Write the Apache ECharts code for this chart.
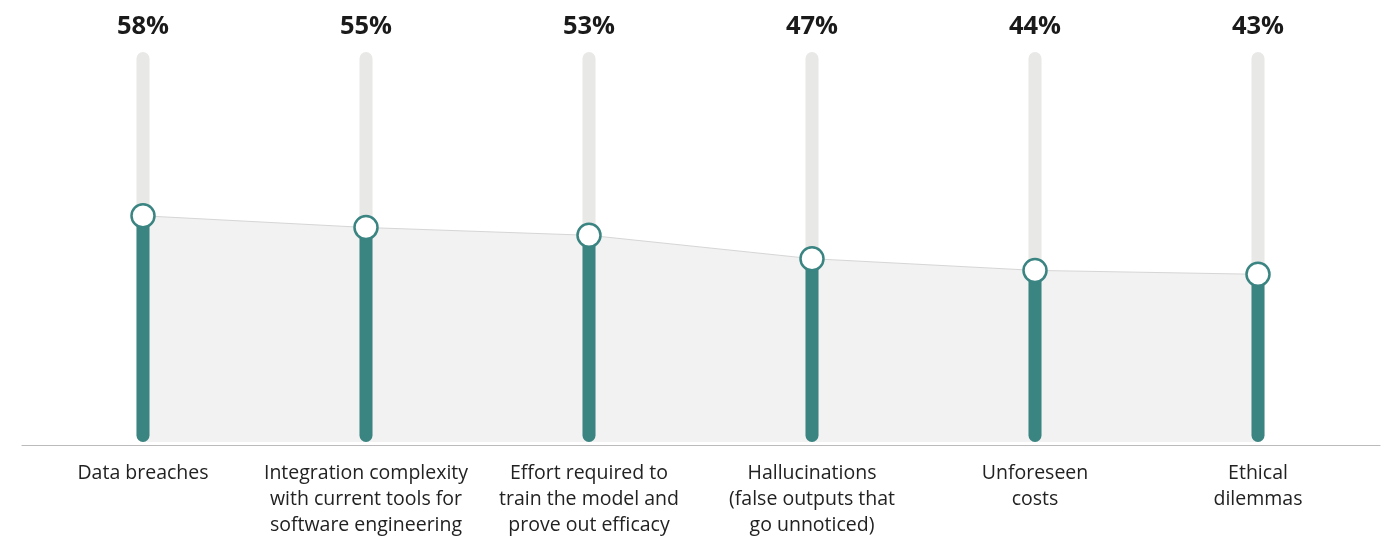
<!DOCTYPE html>
<html>
<head>
<meta charset="utf-8">
<script src="https://cdn.jsdelivr.net/npm/echarts@6/dist/echarts.min.js"></script>
<style>
html,body{margin:0;padding:0;background:#fff;}
#chart{width:1385px;height:538px;}
</style>
</head>
<body>
<div id="chart"></div>
<script>
const categories = [
  "Data breaches",
  "Integration complexity\nwith current tools for\nsoftware engineering",
  "Effort required to\ntrain the model and\nprove out efficacy",
  "Hallucinations\n(false outputs that\ngo unnoticed)",
  "Unforeseen\ncosts",
  "Ethical\ndilemmas"
];
const values = [58, 55, 53, 47, 44, 43];
const fullScale = [100, 100, 100, 100, 100, 100];

const TEAL = '#3a8482';
const FONT = '"Open Sans", "Noto Sans", sans-serif';

const chart = echarts.init(document.getElementById('chart'), null, {renderer: 'canvas'});
chart.setOption({
  backgroundColor: '#ffffff',
  animation: false,
  grid: [
    {left: 31.5, right: 15.5, top: 52, bottom: 92.5},
    {left: 22, right: 5, top: 52, bottom: 92.5}
  ],
  xAxis: [
    {
      type: 'category', gridIndex: 0, data: categories,
      axisLine: {show: false}, axisTick: {show: false},
      axisLabel: {interval: 0, margin: 18, color: '#222', fontSize: 19.5, lineHeight: 26, fontFamily: FONT, align: 'center'}
    },
    {
      type: 'value', gridIndex: 1, min: 0, max: 1,
      axisLine: {show: true, onZero: false, lineStyle: {color: '#bbbbbb', width: 1.2}},
      axisTick: {show: false}, axisLabel: {show: false}, splitLine: {show: false}
    }
  ],
  yAxis: [
    {type: 'value', gridIndex: 0, min: 0, max: 100, show: false},
    {type: 'value', gridIndex: 1, min: 0, max: 100, show: false}
  ],
  series: [
    {
      type: 'line', data: values, xAxisIndex: 0, yAxisIndex: 0,
      showSymbol: false, symbol: 'none', z: 1,
      lineStyle: {color: '#d6d6d6', width: 1},
      areaStyle: {color: '#f2f2f2', opacity: 1}
    },
    {
      type: 'bar', data: fullScale, xAxisIndex: 0, yAxisIndex: 0,
      barWidth: 13, barGap: '-100%', z: 2,
      itemStyle: {color: '#e8e8e6', borderRadius: 6.5},
      label: {
        show: true, position: 'top', distance: 12,
        formatter: p => values[p.dataIndex] + '%',
        color: '#1a1a1a', fontSize: 25.5, fontWeight: 'bold', fontFamily: FONT
      }
    },
    {
      type: 'bar', data: values, xAxisIndex: 0, yAxisIndex: 0,
      barWidth: 13, z: 3,
      itemStyle: {color: TEAL, borderRadius: 6.5}
    },
    {
      type: 'line', data: values, xAxisIndex: 0, yAxisIndex: 0, z: 5,
      symbol: 'circle', symbolSize: 23,
      lineStyle: {width: 0, opacity: 0},
      itemStyle: {color: '#ffffff', borderColor: TEAL, borderWidth: 2.5}
    }
  ]
});
</script>
</body>
</html>
